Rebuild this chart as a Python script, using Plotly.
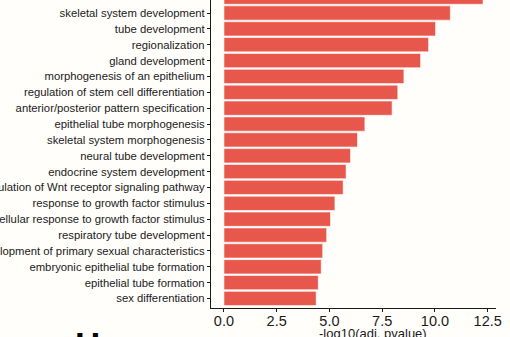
import plotly.graph_objects as go

# GO terms, listed from most to least significant
terms = [
    "pattern specification process",
    "skeletal system development",
    "tube development",
    "regionalization",
    "gland development",
    "morphogenesis of an epithelium",
    "regulation of stem cell differentiation",
    "anterior/posterior pattern specification",
    "epithelial tube morphogenesis",
    "skeletal system morphogenesis",
    "neural tube development",
    "endocrine system development",
    "regulation of Wnt receptor signaling pathway",
    "response to growth factor stimulus",
    "cellular response to growth factor stimulus",
    "respiratory tube development",
    "development of primary sexual characteristics",
    "embryonic epithelial tube formation",
    "epithelial tube formation",
    "sex differentiation",
]
neg_log10_padj = [
    12.28, 10.73, 10.03, 9.70, 9.32, 8.53, 8.24, 7.97, 6.68, 6.33,
    6.00, 5.79, 5.65, 5.26, 5.05, 4.87, 4.68, 4.61, 4.47, 4.37,
]
x_ticks = [0, 2.5, 5, 7.5, 10, 12.5]
x_tick_text = ["0.0", "2.5", "5.0", "7.5", "10.0", "12.5"]

BAR = "#E8574B"
INK = "#1a1a1a"
BG = "#FFFEFB"
FONT = "Liberation Sans, Arial, Helvetica, sans-serif"

# bottom-to-top order for the category axis
ys = terms[::-1]
xs = neg_log10_padj[::-1]

fig = go.Figure(
    go.Bar(
        x=xs,
        y=ys,
        orientation="h",
        marker=dict(color=BAR, line=dict(color="rgba(255,255,255,0.75)", width=0.8)),
        hoverinfo="x+y",
    )
)

top = len(ys) - 1
fig.update_layout(
    width=510,
    height=337,
    margin=dict(l=211, r=14, t=0, b=28.5),
    paper_bgcolor=BG,
    plot_bgcolor=BG,
    bargap=0.1,
    showlegend=False,
    font=dict(family=FONT, color=INK),
    xaxis=dict(
        range=[-0.614, 12.894],
        tickvals=x_ticks,
        ticktext=x_tick_text,
        tickfont=dict(size=14.5, color=INK),
        ticks="outside",
        ticklen=3,
        tickwidth=1,
        tickcolor=INK,
        ticklabelstandoff=-4,
        showline=True,
        linecolor=INK,
        linewidth=1.2,
        showgrid=False,
        zeroline=False,
        automargin=False,
    ),
    yaxis=dict(
        type="category",
        categoryorder="array",
        categoryarray=ys,
        range=[-0.6, 18.82],
        tickfont=dict(size=11.3, color=INK),
        ticks="outside",
        ticklen=3,
        tickwidth=1,
        tickcolor=INK,
        showline=True,
        linecolor=INK,
        linewidth=1.2,
        showgrid=False,
        zeroline=False,
        automargin=False,
    ),
)

# label of the top term, whose row runs past the panel edge
fig.add_annotation(
    x=0, xref="paper", xanchor="right", xshift=-6,
    y=top, yref="y", yanchor="middle",
    text=terms[0], showarrow=False,
    font=dict(size=11.3, color=INK, family=FONT),
)

# x-axis title
fig.add_annotation(
    x=0.57, xref="paper", xanchor="center",
    y=-0.083, yref="paper", yanchor="middle",
    text="-log10(adj. pvalue)", showarrow=False,
    font=dict(size=13, color=INK, family=FONT),
)

# panel tag of the next panel
fig.add_annotation(
    x=-0.433, xref="paper", xanchor="center",
    y=-0.0486, yref="paper", yanchor="top",
    text="<b>H</b>", showarrow=False,
    font=dict(size=35, color="#000000", family=FONT),
)

fig.write_html("out.html")
